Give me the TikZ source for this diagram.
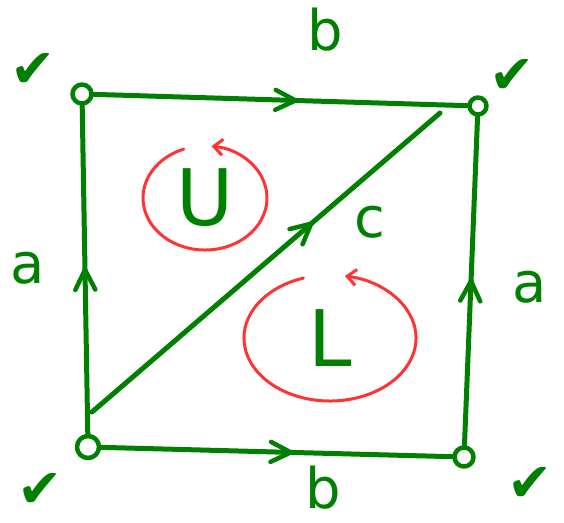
\documentclass[tikz,border=0pt]{standalone}
\usepackage{fontspec}
\setmainfont{DejaVu Sans}
\usetikzlibrary{decorations.markings,arrows.meta}
\definecolor{pg}{RGB}{0,128,0}
\definecolor{pr}{RGB}{255,51,51}
\begin{document}
\begin{tikzpicture}[x=1pt,y=-1pt,line cap=round,line join=round,
  vtx/.style={circle,draw=pg,line width=4.5pt,inner sep=0pt,minimum size=19pt},
  gline/.style={draw=pg,line width=5pt},
  arrowedge/.style={gline,postaction={decorate},decoration={markings,
     mark=at position #1 with {\draw[pg,line width=4.5pt] (-20,-10) -- (0,0) -- (-20,10);}}},
  lbl/.style={text=pg,inner sep=0pt,font=\fontsize{56}{56}\selectfont},
  big/.style={text=pg,inner sep=0pt,font=\fontsize{78}{80}\selectfont},
  tick/.style={text=pg,inner sep=0pt,font=\fontsize{54}{54}\selectfont},
  loop/.style={draw=pr,line width=3pt,-{Straight Barb[length=9pt,width=16pt,line width=3pt]}}]
\useasboundingbox (0,0) rectangle (564,522);
% vertices
\node[vtx] (tl) at (82,94) {};
\node[vtx,minimum size=17pt] (tr) at (478,106) {};
\node[vtx,minimum size=22pt] (bl) at (88,447) {};
\node[vtx] (br) at (464,457) {};
% diagonal end points
\coordinate (d1) at (92,412);
\coordinate (d2) at (440,113);
% edges
\draw[arrowedge=0.54] (tl) -- (tr);
\draw[arrowedge=0.54] (bl) -- (br);
\draw[arrowedge=0.5] (bl) -- (tl);
\draw[arrowedge=0.5] (br) -- (tr);
\draw[arrowedge=0.63] (d1) -- (d2);
% edge labels
\node[lbl] (b1) at (325,30) {b};
\node[lbl,anchor=base] (b2) at (323,508) {b};
\node[lbl] (a1) at (28,268) {a};
\node[lbl] (a2) at (530,287) {a};
\node[lbl] (c) at (370,222) {c};
% faces
\node[big] (U) at (205,198) {U};
\node[big] (L) at (330,338) {L};
\draw[loop] (U.center) ++(250:62 and 52) arc[start angle=250,end angle=-84,x radius=62,y radius=52];
\draw[loop] (L.center) ++(252:86 and 63) arc[start angle=252,end angle=-80,x radius=86,y radius=63];
% check marks
\node[tick] (k1) at (33,70) {✔};
\node[tick] (k2) at (512,76) {✔};
\node[tick] (k3) at (40,490) {✔};
\node[tick] (k4) at (530,484) {✔};
\end{tikzpicture}
\end{document}
